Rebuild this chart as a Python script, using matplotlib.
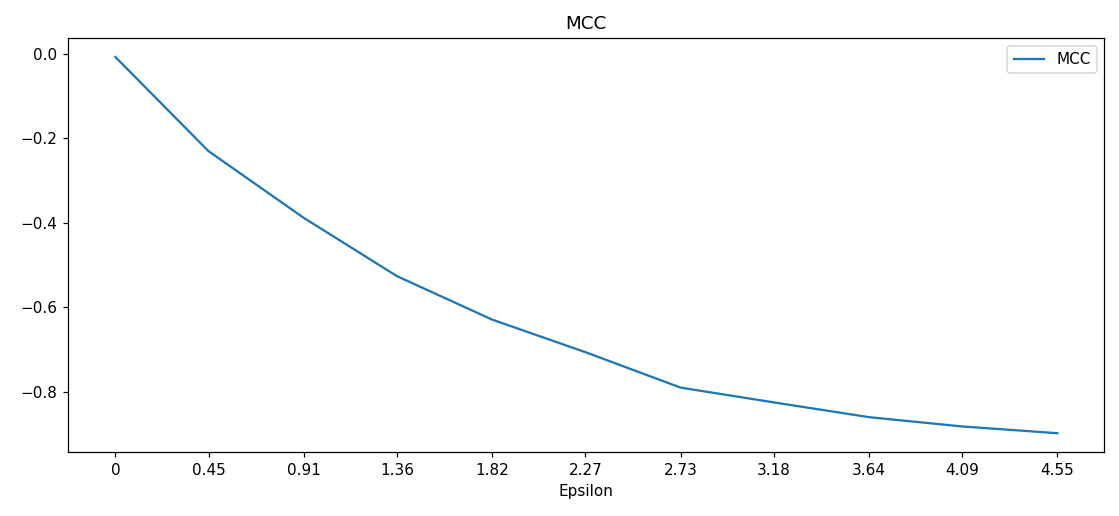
import numpy as np
import matplotlib.pyplot as plt

epsilon = [0, 0.45, 0.91, 1.36, 1.82, 2.27, 2.73, 3.18, 3.64, 4.09, 4.55]
tick_labels = ['0', '0.45', '0.91', '1.36', '1.82', '2.27', '2.73', '3.18', '3.64', '4.09', '4.55']
mcc = [-0.007, -0.23, -0.388, -0.526, -0.629, -0.706, -0.79, -0.825, -0.86, -0.882, -0.898]

fig, ax = plt.subplots(figsize=(1119 / 110, 516 / 110), dpi=110)
ax.plot(epsilon, mcc, label='MCC')
ax.set_xticks(epsilon)
ax.set_xticklabels(tick_labels)
ax.set_title('MCC')
ax.set_xlabel('Epsilon')
ax.legend(loc='upper right')

plt.subplots_adjust(left=0.061, right=0.987, top=0.926, bottom=0.124)
plt.savefig('out.png', dpi=110)
